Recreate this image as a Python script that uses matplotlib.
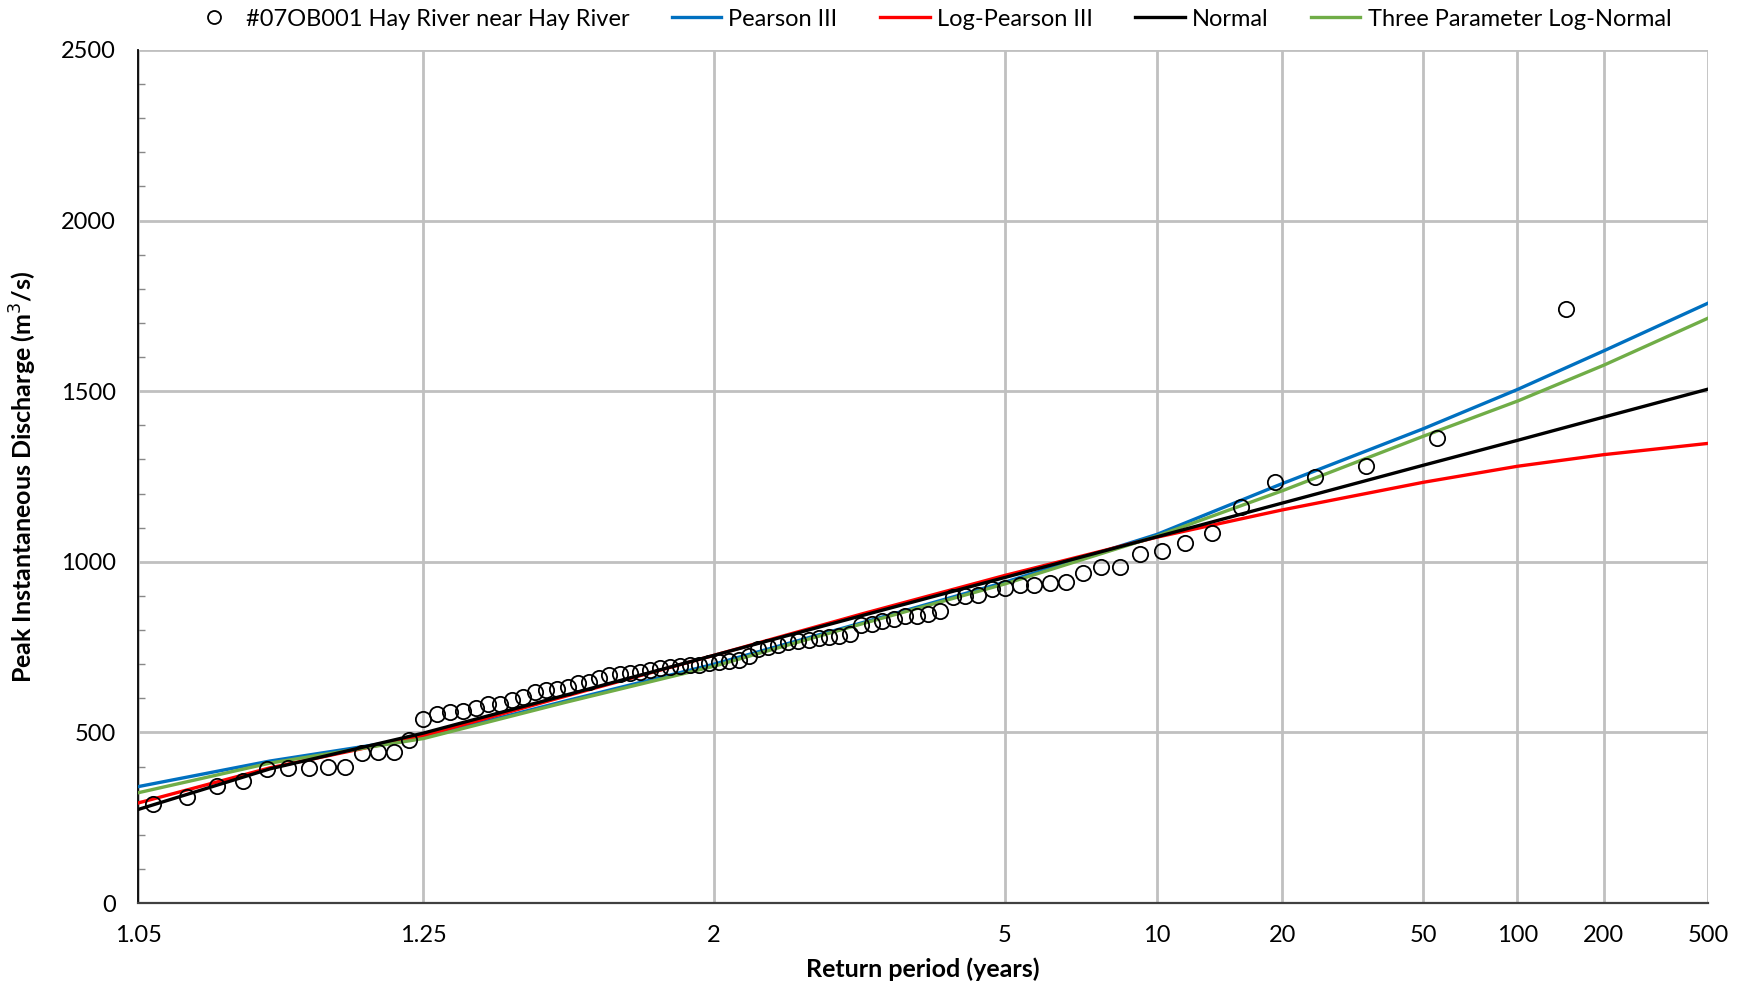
import numpy as np
import matplotlib
matplotlib.use("Agg")
import matplotlib.pyplot as plt
from statistics import NormalDist

# annual peak discharges, sorted ascending (m3/s)
peaks = [200, 230, 255, 275,
         291, 311, 342, 357, 393, 396, 397, 398, 398, 440, 442, 444, 477,
         540, 553, 559, 564, 572, 582, 584, 594, 603, 619, 623, 626, 632,
         645, 647, 660, 667, 670, 675, 676, 684, 689, 692, 694, 699, 699,
         702, 706, 709, 712, 723, 745, 751, 755, 766, 769, 770, 777, 780,
         782, 787, 816, 819, 826, 831, 841, 842, 846, 855, 897, 899, 904,
         921, 922, 931, 932, 937, 940, 968, 984, 985, 1022, 1033, 1056,
         1085, 1160, 1235, 1249, 1281, 1364, 1740]

# fitted frequency curves
curve_T = [1.05, 1.11, 1.25, 1.5, 2, 3, 5, 10, 20, 50, 100, 200, 500]
pearson3 = [341, 416, 486, 592, 700, 822, 940, 1080, 1229, 1390, 1505, 1618, 1758]
log_pearson3 = [293, 396, 490, 606, 726, 848, 960, 1072, 1152, 1233, 1280, 1314, 1347]
normal = [274, 393, 498, 609, 726, 843, 954, 1073, 1172, 1283, 1356, 1424, 1506]
lognormal3 = [323, 410, 482, 588, 694, 819, 935, 1075, 1208, 1368, 1471, 1576, 1714]

xticks = [1.05, 1.25, 2, 5, 10, 20, 50, 100, 200, 500]
xticklabels = ["1.05", "1.25", "2", "5", "10", "20", "50", "100", "200", "500"]

# Cunnane plotting position
n = len(peaks)
rank = np.arange(n, 0, -1)
ret_period = (n + 0.2) / (rank - 0.4)

nd = NormalDist()
_ppf = np.vectorize(nd.inv_cdf, otypes=[float])
_cdf = np.vectorize(nd.cdf, otypes=[float])


def fwd(t):
    t = np.clip(np.asarray(t, float), 1.000001, 1e7)
    return _ppf(np.clip(1 - 1 / t, 1e-9, 1 - 1e-9))


def inv(z):
    p = np.clip(_cdf(np.asarray(z, float)), 1e-9, 1 - 1e-9)
    return 1 / (1 - p)


plt.rcParams['font.family'] = ['Lato', 'DejaVu Sans']

fig = plt.figure(figsize=(17.45, 9.86), dpi=100)
ax = fig.add_axes([138 / 1745, 1 - 903 / 986, 1570 / 1745, 853 / 986])
ax.set_xscale('function', functions=(fwd, inv))

ax.plot(ret_period, peaks, 'o', mfc='none', mec='black', ms=11, mew=1.3,
        label='#07OB001 Hay River near Hay River', zorder=5)
ax.plot(curve_T, pearson3, color='#0070C0', lw=2.4, label='Pearson III', zorder=3)
ax.plot(curve_T, log_pearson3, color='#FF0000', lw=2.4, label='Log-Pearson III', zorder=3)
ax.plot(curve_T, normal, color='black', lw=2.4, label='Normal', zorder=4)
ax.plot(curve_T, lognormal3, color='#70AD47', lw=2.4, label='Three Parameter Log-Normal', zorder=3)

ax.set_xlim(1.05, 500)
ax.set_ylim(0, 2500)
ax.set_xticks(xticks, xticklabels)
ax.set_yticks(np.arange(0, 2501, 500))
ax.set_yticks(np.arange(0, 2501, 100), minor=True)
ax.tick_params(axis='both', which='major', length=0, labelsize=17, pad=16)
ax.tick_params(axis='y', which='minor', direction='in', length=5, width=1, color='#888888')
ax.tick_params(axis='x', which='minor', length=0)
ax.grid(True, which='major', color='#c0c0c0', lw=2)
ax.set_axisbelow(True)

for s in ['top', 'right']:
    ax.spines[s].set_visible(False)
ax.spines['left'].set_linewidth(1.3)
ax.spines['bottom'].set_linewidth(1.6)
ax.spines['bottom'].set_color('#404040')

ax.set_xlabel('Return period (years)', fontsize=18, fontweight='bold', labelpad=8)
ax.set_ylabel('Peak Instantaneous Discharge (m$^3$/s)', fontsize=18, fontweight='bold', labelpad=16)

fig.legend(loc='center', bbox_to_anchor=(0.533, 1 - 19 / 986), ncol=5, frameon=False,
           fontsize=17, handlelength=2.1, columnspacing=1.8, handletextpad=0.3,
           markerscale=0.85)

fig.savefig('out.png', dpi=100)
